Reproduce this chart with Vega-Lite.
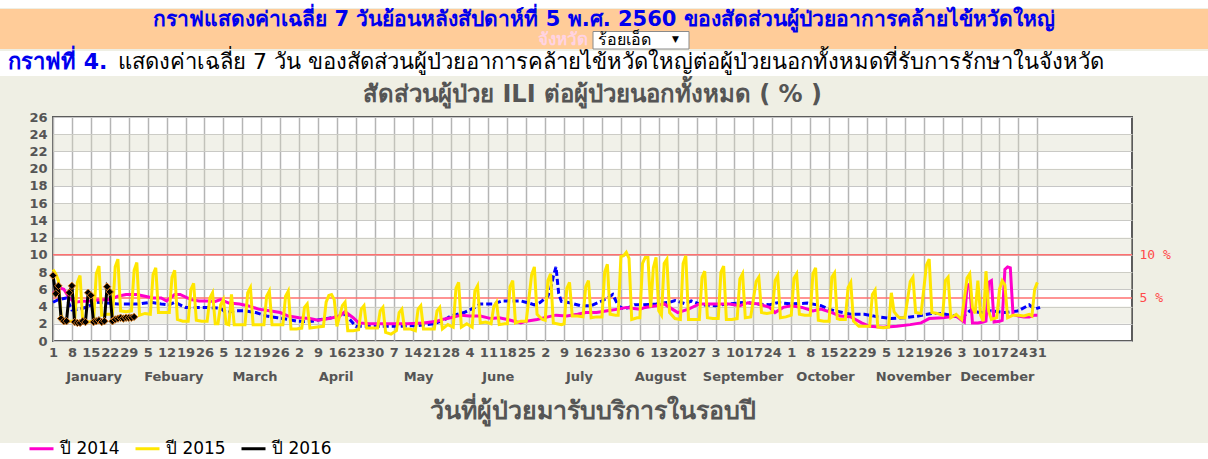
{
  "$schema": "https://vega.github.io/schema/vega-lite/v6.json",
  "padding": 0,
  "background": "#efefe4",
  "spacing": 0,
  "config": {"view": {"stroke": null}, "font": "DejaVu Sans"},
  "datasets": {
    "blue": [{"d":1,"v":4.5},{"d":3,"v":4.8},{"d":6,"v":5.0},{"d":8,"v":3.6},{"d":11,"v":3.7},{"d":14,"v":4.0},{"d":17,"v":4.5},{"d":21,"v":4.4},{"d":25,"v":4.3},{"d":29,"v":4.3},{"d":33,"v":4.3},{"d":37,"v":4.5},{"d":41,"v":4.3},{"d":44,"v":4.2},{"d":46,"v":4.5},{"d":48,"v":4.2},{"d":50,"v":3.9},{"d":54,"v":3.9},{"d":58,"v":3.9},{"d":63,"v":3.8},{"d":65,"v":3.3},{"d":68,"v":3.5},{"d":72,"v":3.5},{"d":76,"v":3.3},{"d":80,"v":2.9},{"d":84,"v":2.7},{"d":88,"v":2.5},{"d":91,"v":2.3},{"d":94,"v":2.25},{"d":97,"v":2.3},{"d":100,"v":2.5},{"d":104,"v":2.7},{"d":107,"v":2.9},{"d":109,"v":3.1},{"d":111,"v":2.4},{"d":113,"v":1.7},{"d":120,"v":1.7},{"d":128,"v":1.7},{"d":136,"v":1.8},{"d":142,"v":2.0},{"d":146,"v":2.5},{"d":148,"v":2.9},{"d":153,"v":3.3},{"d":157,"v":3.9},{"d":159,"v":4.3},{"d":164,"v":4.3},{"d":167,"v":4.65},{"d":174,"v":4.65},{"d":177,"v":4.4},{"d":179,"v":4.2},{"d":181,"v":4.45},{"d":184,"v":5.2},{"d":185,"v":6.0},{"d":186,"v":7.5},{"d":187,"v":8.6},{"d":188,"v":5.5},{"d":189,"v":4.6},{"d":192,"v":4.45},{"d":196,"v":4.1},{"d":200,"v":4.1},{"d":204,"v":4.65},{"d":206,"v":5.0},{"d":208,"v":5.4},{"d":210,"v":4.1},{"d":212,"v":3.7},{"d":214,"v":3.9},{"d":216,"v":4.2},{"d":219,"v":4.2},{"d":224,"v":4.3},{"d":229,"v":4.5},{"d":231,"v":4.7},{"d":235,"v":4.3},{"d":237,"v":4.65},{"d":241,"v":4.2},{"d":246,"v":4.1},{"d":251,"v":4.3},{"d":257,"v":4.5},{"d":261,"v":4.3},{"d":266,"v":4.2},{"d":269,"v":4.45},{"d":274,"v":4.3},{"d":280,"v":4.4},{"d":285,"v":4.1},{"d":288,"v":3.7},{"d":290,"v":3.5},{"d":293,"v":3.3},{"d":296,"v":3.1},{"d":301,"v":3.1},{"d":306,"v":2.8},{"d":311,"v":2.6},{"d":316,"v":2.7},{"d":321,"v":2.9},{"d":326,"v":3.2},{"d":329,"v":3.2},{"d":333,"v":3.0},{"d":337,"v":2.7},{"d":340,"v":3.5},{"d":344,"v":3.3},{"d":348,"v":3.5},{"d":353,"v":3.3},{"d":358,"v":3.5},{"d":362,"v":4.2},{"d":364,"v":3.7},{"d":366,"v":3.9}],
    "y2014": [{"d":1,"v":5.5},{"d":3,"v":6.2},{"d":5,"v":6.0},{"d":7,"v":5.0},{"d":9,"v":4.5},{"d":12,"v":4.6},{"d":15,"v":4.65},{"d":18,"v":4.8},{"d":22,"v":4.8},{"d":25,"v":5.2},{"d":28,"v":5.4},{"d":32,"v":5.4},{"d":35,"v":5.2},{"d":38,"v":5.0},{"d":41,"v":5.0},{"d":43,"v":4.65},{"d":46,"v":5.4},{"d":48,"v":5.4},{"d":52,"v":4.8},{"d":55,"v":4.65},{"d":58,"v":4.65},{"d":61,"v":4.6},{"d":63,"v":4.8},{"d":66,"v":4.4},{"d":70,"v":4.3},{"d":73,"v":4.1},{"d":77,"v":3.7},{"d":81,"v":3.5},{"d":85,"v":3.3},{"d":88,"v":2.9},{"d":92,"v":2.7},{"d":96,"v":2.6},{"d":99,"v":2.4},{"d":103,"v":2.6},{"d":107,"v":2.9},{"d":109,"v":3.4},{"d":112,"v":2.7},{"d":114,"v":2.1},{"d":118,"v":2.0},{"d":125,"v":2.0},{"d":132,"v":2.0},{"d":138,"v":2.1},{"d":143,"v":2.3},{"d":145,"v":2.5},{"d":148,"v":2.7},{"d":152,"v":3.0},{"d":155,"v":2.9},{"d":159,"v":2.9},{"d":163,"v":2.6},{"d":166,"v":2.7},{"d":169,"v":2.5},{"d":174,"v":2.1},{"d":176,"v":2.3},{"d":180,"v":2.5},{"d":184,"v":2.8},{"d":187,"v":3.0},{"d":191,"v":2.9},{"d":195,"v":3.1},{"d":198,"v":3.3},{"d":202,"v":3.3},{"d":206,"v":3.5},{"d":210,"v":3.7},{"d":213,"v":3.9},{"d":218,"v":3.7},{"d":220,"v":3.9},{"d":224,"v":4.1},{"d":227,"v":4.3},{"d":230,"v":3.7},{"d":232,"v":3.3},{"d":236,"v":3.7},{"d":240,"v":4.3},{"d":244,"v":4.3},{"d":247,"v":4.3},{"d":251,"v":4.3},{"d":255,"v":4.1},{"d":258,"v":4.45},{"d":262,"v":4.3},{"d":266,"v":3.9},{"d":268,"v":3.3},{"d":271,"v":3.9},{"d":274,"v":4.1},{"d":278,"v":3.9},{"d":282,"v":3.5},{"d":285,"v":3.7},{"d":289,"v":3.3},{"d":292,"v":2.9},{"d":296,"v":2.8},{"d":300,"v":2.1},{"d":303,"v":1.7},{"d":308,"v":1.6},{"d":313,"v":1.7},{"d":318,"v":1.9},{"d":322,"v":2.1},{"d":325,"v":2.6},{"d":330,"v":2.7},{"d":335,"v":2.9},{"d":337,"v":2.4},{"d":338,"v":2.2},{"d":339,"v":6.4},{"d":340,"v":6.6},{"d":341,"v":2.1},{"d":343,"v":2.1},{"d":345,"v":2.2},{"d":346,"v":2.3},{"d":347,"v":6.8},{"d":348,"v":7.0},{"d":349,"v":2.2},{"d":351,"v":2.3},{"d":352,"v":2.4},{"d":353,"v":8.3},{"d":354,"v":8.6},{"d":355,"v":8.5},{"d":356,"v":3.1},{"d":358,"v":2.9},{"d":360,"v":2.8},{"d":362,"v":2.8},{"d":364,"v":3.0},{"d":365,"v":3.0}],
    "y2015": [{"d":1,"v":8.3},{"d":2,"v":7.8},{"d":3,"v":7.0},{"d":4,"v":3.0},{"d":5,"v":2.3},{"d":7,"v":2.3},{"d":9,"v":2.3},{"d":10,"v":6.8},{"d":11,"v":7.6},{"d":12,"v":2.2},{"d":14,"v":2.2},{"d":16,"v":2.3},{"d":17,"v":7.8},{"d":18,"v":8.7},{"d":19,"v":3.0},{"d":21,"v":3.1},{"d":23,"v":3.1},{"d":24,"v":8.6},{"d":25,"v":9.5},{"d":26,"v":3.5},{"d":28,"v":3.4},{"d":30,"v":3.5},{"d":31,"v":8.2},{"d":32,"v":9.1},{"d":33,"v":3.0},{"d":35,"v":3.2},{"d":37,"v":3.1},{"d":38,"v":7.7},{"d":39,"v":8.5},{"d":40,"v":3.3},{"d":42,"v":3.3},{"d":44,"v":3.3},{"d":45,"v":7.4},{"d":46,"v":8.2},{"d":47,"v":2.5},{"d":49,"v":2.3},{"d":51,"v":2.3},{"d":52,"v":6.0},{"d":53,"v":6.7},{"d":54,"v":2.4},{"d":56,"v":2.3},{"d":58,"v":2.3},{"d":59,"v":5.0},{"d":60,"v":5.6},{"d":61,"v":2.0},{"d":62,"v":2.0},{"d":63,"v":4.2},{"d":64,"v":4.8},{"d":65,"v":2.0},{"d":66,"v":1.9},{"d":67,"v":5.4},{"d":68,"v":1.9},{"d":70,"v":1.9},{"d":72,"v":1.9},{"d":73,"v":5.6},{"d":74,"v":6.2},{"d":75,"v":1.9},{"d":77,"v":1.9},{"d":79,"v":1.9},{"d":80,"v":5.2},{"d":81,"v":5.8},{"d":82,"v":1.9},{"d":84,"v":1.9},{"d":86,"v":1.9},{"d":87,"v":5.2},{"d":88,"v":5.8},{"d":89,"v":1.4},{"d":91,"v":1.4},{"d":93,"v":1.5},{"d":94,"v":3.9},{"d":95,"v":4.3},{"d":96,"v":1.5},{"d":98,"v":1.6},{"d":101,"v":1.7},{"d":102,"v":4.5},{"d":103,"v":5.3},{"d":104,"v":5.4},{"d":105,"v":4.8},{"d":106,"v":1.7},{"d":108,"v":4.1},{"d":109,"v":4.5},{"d":110,"v":1.2},{"d":112,"v":1.2},{"d":114,"v":1.3},{"d":115,"v":3.7},{"d":116,"v":4.1},{"d":117,"v":1.5},{"d":119,"v":1.5},{"d":121,"v":1.5},{"d":122,"v":3.5},{"d":123,"v":3.9},{"d":124,"v":1.0},{"d":126,"v":0.8},{"d":128,"v":1.2},{"d":129,"v":3.3},{"d":130,"v":3.7},{"d":131,"v":1.4},{"d":133,"v":1.4},{"d":135,"v":1.2},{"d":136,"v":3.7},{"d":137,"v":4.1},{"d":138,"v":1.4},{"d":140,"v":1.4},{"d":142,"v":1.4},{"d":143,"v":3.5},{"d":144,"v":3.9},{"d":145,"v":1.4},{"d":147,"v":1.9},{"d":149,"v":1.6},{"d":150,"v":6.1},{"d":151,"v":6.8},{"d":152,"v":1.6},{"d":154,"v":2.0},{"d":156,"v":1.6},{"d":157,"v":5.8},{"d":158,"v":6.4},{"d":159,"v":2.1},{"d":161,"v":2.2},{"d":163,"v":2.0},{"d":164,"v":4.0},{"d":165,"v":4.5},{"d":166,"v":1.9},{"d":168,"v":2.0},{"d":169,"v":2.0},{"d":170,"v":6.3},{"d":171,"v":7.0},{"d":172,"v":2.1},{"d":174,"v":2.3},{"d":176,"v":2.3},{"d":178,"v":7.7},{"d":179,"v":8.6},{"d":180,"v":3.1},{"d":182,"v":2.5},{"d":183,"v":2.4},{"d":184,"v":7.0},{"d":185,"v":7.8},{"d":186,"v":2.1},{"d":189,"v":1.9},{"d":190,"v":2.0},{"d":191,"v":6.1},{"d":192,"v":6.8},{"d":193,"v":2.9},{"d":195,"v":2.9},{"d":197,"v":2.8},{"d":198,"v":6.3},{"d":199,"v":7.0},{"d":200,"v":2.7},{"d":202,"v":2.8},{"d":204,"v":2.8},{"d":205,"v":8.0},{"d":206,"v":8.9},{"d":207,"v":3.1},{"d":209,"v":3.0},{"d":210,"v":3.0},{"d":211,"v":9.8},{"d":212,"v":9.9},{"d":213,"v":10.3},{"d":214,"v":9.6},{"d":215,"v":2.5},{"d":217,"v":2.7},{"d":218,"v":2.7},{"d":219,"v":9.0},{"d":220,"v":9.7},{"d":221,"v":9.7},{"d":222,"v":3.9},{"d":223,"v":8.5},{"d":224,"v":9.7},{"d":225,"v":3.5},{"d":226,"v":3.0},{"d":227,"v":9.0},{"d":228,"v":9.5},{"d":229,"v":3.3},{"d":231,"v":2.6},{"d":233,"v":2.5},{"d":234,"v":9.0},{"d":235,"v":9.9},{"d":236,"v":2.5},{"d":238,"v":2.5},{"d":240,"v":2.5},{"d":241,"v":7.4},{"d":242,"v":8.1},{"d":243,"v":2.7},{"d":245,"v":2.6},{"d":247,"v":2.6},{"d":248,"v":8.0},{"d":249,"v":8.7},{"d":250,"v":2.5},{"d":252,"v":2.5},{"d":254,"v":2.6},{"d":255,"v":7.2},{"d":256,"v":7.8},{"d":257,"v":2.7},{"d":259,"v":2.8},{"d":261,"v":6.9},{"d":262,"v":7.4},{"d":263,"v":3.3},{"d":265,"v":3.2},{"d":267,"v":3.3},{"d":268,"v":7.0},{"d":269,"v":7.6},{"d":270,"v":2.7},{"d":272,"v":2.8},{"d":274,"v":3.0},{"d":275,"v":7.3},{"d":276,"v":7.8},{"d":277,"v":3.1},{"d":279,"v":3.0},{"d":281,"v":3.0},{"d":282,"v":7.8},{"d":283,"v":8.5},{"d":284,"v":2.4},{"d":286,"v":2.3},{"d":288,"v":2.3},{"d":289,"v":7.4},{"d":290,"v":7.9},{"d":291,"v":2.6},{"d":292,"v":2.5},{"d":294,"v":2.5},{"d":295,"v":6.2},{"d":296,"v":6.8},{"d":297,"v":2.3},{"d":299,"v":1.7},{"d":301,"v":1.7},{"d":303,"v":1.7},{"d":304,"v":5.4},{"d":305,"v":5.9},{"d":306,"v":1.6},{"d":308,"v":1.55},{"d":310,"v":1.6},{"d":311,"v":5.6},{"d":312,"v":3.4},{"d":313,"v":3.0},{"d":314,"v":2.7},{"d":316,"v":2.7},{"d":318,"v":6.9},{"d":319,"v":7.4},{"d":320,"v":3.3},{"d":322,"v":3.2},{"d":324,"v":8.8},{"d":325,"v":9.5},{"d":326,"v":3.3},{"d":328,"v":3.2},{"d":330,"v":3.0},{"d":331,"v":7.0},{"d":332,"v":7.4},{"d":333,"v":2.7},{"d":335,"v":3.1},{"d":337,"v":2.5},{"d":339,"v":7.3},{"d":340,"v":7.8},{"d":341,"v":3.9},{"d":342,"v":3.2},{"d":343,"v":7.0},{"d":344,"v":3.0},{"d":345,"v":2.3},{"d":346,"v":8.1},{"d":347,"v":3.5},{"d":348,"v":2.5},{"d":350,"v":2.7},{"d":351,"v":6.0},{"d":352,"v":7.0},{"d":353,"v":6.5},{"d":354,"v":2.7},{"d":356,"v":3.0},{"d":358,"v":3.0},{"d":360,"v":2.9},{"d":362,"v":3.1},{"d":363,"v":2.9},{"d":364,"v":6.0},{"d":365,"v":6.8}],
    "y2016": [{"d":1,"v":7.6},{"d":2,"v":5.5},{"d":3,"v":6.4},{"d":4,"v":2.6},{"d":5,"v":2.3},{"d":6,"v":2.3},{"d":7,"v":5.6},{"d":8,"v":6.4},{"d":9,"v":2.2},{"d":10,"v":2.1},{"d":11,"v":2.1},{"d":12,"v":2.3},{"d":13,"v":2.2},{"d":14,"v":5.6},{"d":15,"v":5.3},{"d":16,"v":2.2},{"d":17,"v":2.3},{"d":18,"v":2.4},{"d":19,"v":2.2},{"d":20,"v":2.3},{"d":21,"v":6.3},{"d":22,"v":5.7},{"d":23,"v":2.3},{"d":24,"v":2.5},{"d":25,"v":2.6},{"d":26,"v":2.7},{"d":27,"v":2.6},{"d":28,"v":2.7},{"d":29,"v":2.7},{"d":30,"v":2.7},{"d":31,"v":2.8}]
  },
  "vconcat": [
    {
      "width": 1208, "height": 8,
      "view": {"fill": "white", "stroke": null},
      "data": {"values": [{"t": ""}]},
      "mark": {"type": "text", "fontSize": 1},
      "encoding": {
        "x": {"datum": 0.5, "type": "quantitative", "scale": {"domain": [0, 1]}, "axis": null},
        "y": {"datum": 0.5, "type": "quantitative", "scale": {"domain": [0, 1]}, "axis": null},
        "text": {"field": "t"}
      }
    },
    {
      "width": 1208, "height": 40,
      "view": {"fill": "#ffcc99", "stroke": null},
      "encoding": {
        "x": {"datum": 0.5, "type": "quantitative", "scale": {"domain": [0, 1]}, "axis": null},
        "y": {"datum": 0.5, "type": "quantitative", "scale": {"domain": [0, 1]}, "axis": null}
      },
      "layer": [
        {
          "data": {"values": [{"t": "กราฟแสดงค่าเฉลี่ย 7 วันย้อนหลังสัปดาห์ที่ 5   พ.ศ. 2560 ของสัดส่วนผู้ป่วยอาการคล้ายไข้หวัดใหญ่"}]},
          "mark": {"type": "text", "fontSize": 21, "fontWeight": "bold", "color": "#0000ee", "align": "center", "baseline": "middle", "dy": -9.5, "font": "DejaVu Sans"},
          "encoding": {"text": {"field": "t"}}
        },
        {
          "data": {"values": [{"t": "จังหวัด"}]},
          "mark": {"type": "text", "fontSize": 17, "fontWeight": "bold", "color": "#ffd3e3", "align": "right", "baseline": "middle", "dx": -16, "dy": 10.5, "font": "DejaVu Sans"},
          "encoding": {"text": {"field": "t"}}
        },
        {
          "data": {"values": [{"t": "box"}]},
          "mark": {"type": "point", "shape": "M-0.22,0.05L1.7,0.05L1.7,0.4L-0.22,0.4Z", "size": 10000, "filled": true, "fill": "white", "stroke": "#8a8a8a", "strokeWidth": 1, "opacity": 1}
        },
        {
          "data": {"values": [{"t": "ร้อยเอ็ด"}]},
          "mark": {"type": "text", "fontSize": 16, "color": "black", "align": "left", "baseline": "middle", "dx": -6, "dy": 11, "font": "DejaVu Sans"},
          "encoding": {"text": {"field": "t"}}
        },
        {
          "data": {"values": [{"t": "▼"}]},
          "mark": {"type": "text", "fontSize": 9, "color": "black", "align": "left", "baseline": "middle", "dx": 68, "dy": 10, "font": "DejaVu Sans"},
          "encoding": {"text": {"field": "t"}}
        }
      ]
    },
    {
      "width": 1208, "height": 25,
      "view": {"fill": "white", "stroke": null},
      "encoding": {
        "x": {"datum": 0, "type": "quantitative", "scale": {"domain": [0, 1]}, "axis": null},
        "y": {"datum": 0.5, "type": "quantitative", "scale": {"domain": [0, 1]}, "axis": null}
      },
      "layer": [
        {
          "data": {"values": [{"t": "กราฟที่ 4."}]},
          "mark": {"type": "text", "fontSize": 22, "fontWeight": "bold", "color": "#0000ee", "align": "left", "baseline": "middle", "dx": 8, "dy": -1.5, "font": "DejaVu Sans"},
          "encoding": {"text": {"field": "t"}}
        },
        {
          "data": {"values": [{"t": "แสดงค่าเฉลี่ย 7 วัน ของสัดส่วนผู้ป่วยอาการคล้ายไข้หวัดใหญ่ต่อผู้ป่วยนอกทั้งหมดที่รับการรักษาในจังหวัด"}]},
          "mark": {"type": "text", "fontSize": 22, "color": "black", "align": "left", "baseline": "middle", "dx": 118, "dy": -1.5, "font": "DejaVu Sans"},
          "encoding": {"text": {"field": "t"}}
        }
      ]
    },
    {
      "width": 1208, "height": 6,
      "data": {"values": [{"t": ""}]},
      "mark": {"type": "text", "fontSize": 1},
      "encoding": {
        "x": {"datum": 0.5, "type": "quantitative", "scale": {"domain": [0, 1]}, "axis": null},
        "y": {"datum": 0.5, "type": "quantitative", "scale": {"domain": [0, 1]}, "axis": null},
        "text": {"field": "t"}
      }
    },
    {
      "spacing": 0,
      "hconcat": [
        {
          "width": 1, "height": 1,
          "data": {"values": [{"t": ""}]},
          "mark": {"type": "text", "fontSize": 1},
          "encoding": {
            "x": {"datum": 0.5, "type": "quantitative", "scale": {"domain": [0, 1]}, "axis": null},
            "y": {"datum": 0.5, "type": "quantitative", "scale": {"domain": [0, 1]}, "axis": null},
            "text": {"field": "t"}
          }
        },
        {
          "width": 1079, "height": 224,
          "view": {"fill": "white", "stroke": "#5c5c5c", "strokeWidth": 2},
          "title": {"text": "สัดส่วนผู้ป่วย ILI ต่อผู้ป่วยนอกทั้งหมด ( % )", "fontSize": 24, "fontWeight": "bold", "color": "#555555", "offset": 4, "anchor": "middle", "font": "DejaVu Sans"},
          "layer": [
            {
              "data": {"values": [{"y0": 2, "y1": 4}, {"y0": 6, "y1": 8}, {"y0": 10, "y1": 12}, {"y0": 14, "y1": 16}, {"y0": 18, "y1": 20}, {"y0": 22, "y1": 24}]},
              "mark": {"type": "rect", "color": "#d9d9c4", "opacity": 0.38},
              "encoding": {
                "x": {"datum": 1, "type": "quantitative", "scale": {"domain": [1, 400], "nice": false, "zero": false}, "axis": null},
                "x2": {"datum": 400},
                "y": {"field": "y0", "type": "quantitative", "scale": {"domain": [0, 26], "nice": false, "zero": true},
                      "axis": {"orient": "left", "values": [0,2,4,6,8,10,12,14,16,18,20,22,24,26], "grid": true, "gridColor": "#c6c6c6", "gridWidth": 1, "ticks": false, "domain": false, "labelFontWeight": "bold", "labelFontSize": 13, "labelColor": "#555555", "labelPadding": 6, "title": null, "minExtent": 51, "labelFont": "DejaVu Sans"}},
                "y2": {"field": "y1"}
              }
            },
            {
              "data": {"values": [{"v": 5}, {"v": 10}]},
              "mark": {"type": "rule", "color": "#ff7070", "strokeWidth": 1.5},
              "encoding": {
                "x": {"datum": 1, "type": "quantitative", "axis": null},
                "x2": {"datum": 400},
                "y": {"field": "v", "type": "quantitative",
                      "axis": {"orient": "right", "values": [5, 10], "labelExpr": "datum.value + ' %'", "ticks": false, "domain": false, "grid": false, "labelColor": "#ff4a4a", "labelFontSize": 13, "labelPadding": 7, "title": null, "labelFont": "DejaVu Sans Mono"}}
              }
            },
            {
              "data": {"name": "blue"},
              "mark": {"type": "line", "color": "#0000ff", "strokeWidth": 3, "strokeDash": [6, 3]},
              "encoding": {
                "x": {"field": "d", "type": "quantitative",
                      "axis": {"orient": "bottom", "values": [1,8,15,22,29,36,43,50,57,64,71,78,85,92,99,106,113,120,127,134,141,148,155,162,169,176,183,190,197,204,211,218,225,232,239,246,253,260,267,274,281,288,295,302,309,316,323,330,337,344,351,358,365],
                               "labelExpr": "'' + date(datetime(2015, 0, datum.value))", "grid": true, "gridColor": "#b4b4b4", "gridWidth": 1.5, "ticks": false, "domain": false, "labelFontWeight": "bold", "labelFontSize": 13, "labelColor": "#555555", "labelPadding": 5, "labelOverlap": false, "labelFlush": false, "labelBound": false, "title": null, "labelFont": "DejaVu Sans"}},
                "y": {"field": "v", "type": "quantitative", "axis": null}
              }
            },
            {
              "data": {"name": "y2014"},
              "mark": {"type": "line", "color": "#ff00cc", "strokeWidth": 3},
              "encoding": {
                "x": {"field": "d", "type": "quantitative",
                      "axis": {"orient": "bottom", "values": [16,45.5,75.5,105.5,136,165.5,195.5,225.5,256,286.5,319,350],
                               "labelExpr": "['January','Febuary','March','April','May','June','July','August','September','October','November','December'][indexof([16,45.5,75.5,105.5,136,165.5,195.5,225.5,256,286.5,319,350], datum.value)]",
                               "grid": false, "ticks": false, "domain": false, "labelFontWeight": "bold", "labelFontSize": 13, "labelColor": "#555555", "labelPadding": 29, "labelOverlap": false, "labelFlush": false, "labelBound": false, "labelFont": "DejaVu Sans",
                               "title": "วันที่ผู้ป่วยมารับบริการในรอบปี", "titleFontSize": 25, "titleFontWeight": "bold", "titleColor": "#555555", "titlePadding": 15, "titleFont": "DejaVu Sans"}},
                "y": {"field": "v", "type": "quantitative", "axis": null}
              }
            },
            {
              "data": {"name": "y2015"},
              "mark": {"type": "line", "color": "#ffe600", "strokeWidth": 3},
              "encoding": {
                "x": {"field": "d", "type": "quantitative", "axis": null},
                "y": {"field": "v", "type": "quantitative", "axis": null}
              }
            },
            {
              "data": {"name": "y2016"},
              "mark": {"type": "line", "color": "black", "strokeWidth": 3, "point": {"shape": "diamond", "size": 55, "filled": true, "fill": "black", "stroke": "#d2781e", "strokeWidth": 1}},
              "encoding": {
                "x": {"field": "d", "type": "quantitative", "axis": null},
                "y": {"field": "v", "type": "quantitative", "axis": null}
              }
            }
          ],
          "resolve": {"axis": {"x": "independent", "y": "independent"}}
        }
      ]
    },
    {
      "width": 1208, "height": 19,
      "data": {"values": [{"t": ""}]},
      "mark": {"type": "text", "fontSize": 1},
      "encoding": {
        "x": {"datum": 0.5, "type": "quantitative", "scale": {"domain": [0, 1]}, "axis": null},
        "y": {"datum": 0.5, "type": "quantitative", "scale": {"domain": [0, 1]}, "axis": null},
        "text": {"field": "t"}
      }
    },
    {
      "width": 1208, "height": 22,
      "view": {"fill": "white", "stroke": null},
      "data": {"values": [{"s": "ปี 2014"}, {"s": "ปี 2015"}, {"s": "ปี 2016"}]},
      "mark": {"type": "line", "strokeWidth": 3},
      "encoding": {
        "x": {"datum": 0.5, "type": "quantitative", "scale": {"domain": [0, 1]}, "axis": null},
        "y": {"datum": 0.5, "type": "quantitative", "scale": {"domain": [0, 1]}, "axis": null},
        "color": {"field": "s", "type": "nominal",
                  "scale": {"domain": ["ปี 2014", "ปี 2015", "ปี 2016"], "range": ["#ff00cc", "#ffe600", "#000000"]},
                  "legend": {"orient": "none", "legendX": 28, "legendY": 435, "direction": "horizontal", "title": null, "symbolType": "stroke", "symbolSize": 576, "symbolStrokeWidth": 3, "labelFontSize": 17, "labelFont": "DejaVu Sans", "labelColor": "black", "columnPadding": 9, "labelOffset": 5, "padding": 0}}
      }
    }
  ]
}
